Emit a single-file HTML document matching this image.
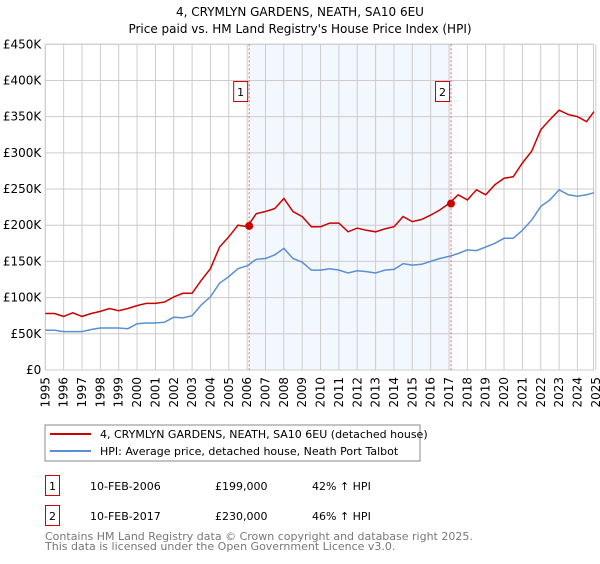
<!DOCTYPE html>
<html><head><meta charset="utf-8"><style>
body{margin:0;background:#fff;font-family:"DejaVu Sans","Liberation Sans",sans-serif;}
svg text{font-family:"DejaVu Sans","Liberation Sans",sans-serif;}
</style></head><body>
<svg id="c" width="600" height="560" xmlns="http://www.w3.org/2000/svg">
<text x="300" y="16" text-anchor="middle" font-size="12">4, CRYMLYN GARDENS, NEATH, SA10 6EU</text>
<text x="300" y="33" text-anchor="middle" font-size="12">Price paid vs. HM Land Registry's House Price Index (HPI)</text>
<g id="plot"></g>
<rect x="45" y="425" width="375" height="36" fill="#fff" stroke="#888"/>
<line x1="50" y1="434" x2="91" y2="434" stroke="#cc0000" stroke-width="2"/>
<text x="100" y="438" font-size="11">4, CRYMLYN GARDENS, NEATH, SA10 6EU (detached house)</text>
<line x1="50" y1="451" x2="91" y2="451" stroke="#5b8fd4" stroke-width="2"/>
<text x="100" y="455" font-size="11">HPI: Average price, detached house, Neath Port Talbot</text>
<g>
<rect x="45.5" y="475.5" width="14" height="20" fill="none" stroke="#cc0000"/>
<text x="52.5" y="490" text-anchor="middle" font-size="11">1</text>
<text x="90" y="490" font-size="11">10-FEB-2006</text>
<text x="215" y="490" font-size="11">£199,000</text>
<text x="312" y="490" font-size="11">42% ↑ HPI</text>
</g>
<g>
<rect x="45.5" y="505.5" width="14" height="20" fill="none" stroke="#cc0000"/>
<text x="52.5" y="520" text-anchor="middle" font-size="11">2</text>
<text x="90" y="520" font-size="11">10-FEB-2017</text>
<text x="215" y="520" font-size="11">£230,000</text>
<text x="312" y="520" font-size="11">46% ↑ HPI</text>
</g>
<text x="45" y="540" font-size="11" fill="#777">Contains HM Land Registry data © Crown copyright and database right 2025.</text>
<text x="45" y="550" font-size="11" fill="#777">This data is licensed under the Open Government Licence v3.0.</text>
</svg>
<script>
const years=[1995,1995.5,1996,1996.5,1997,1997.5,1998,1998.5,1999,1999.5,2000,2000.5,2001,2001.5,2002,2002.5,2003,2003.5,2004,2004.5,2005,2005.5,2006,2006.5,2007,2007.5,2008,2008.5,2009,2009.5,2010,2010.5,2011,2011.5,2012,2012.5,2013,2013.5,2014,2014.5,2015,2015.5,2016,2016.5,2017,2017.5,2018,2018.5,2019,2019.5,2020,2020.5,2021,2021.5,2022,2022.5,2023,2023.5,2024,2024.5,2024.9];
const hpiValues=[55,55,53,53,53,56,58,58,58,57,64,65,65,66,73,72,75,90,101,120,129,140,144,153,154,159,168,154,149,138,138,140,138,134,137,136,134,138,139,147,145,146,150,154,157,161,166,165,170,175,182,182,193,207,226,235,249,242,240,242,245];
const priceValues=[78,78,74,79,74,78,81,85,82,85,89,92,92,94,101,106,106,124,140,170,184,200,198,216,219,223,237,219,212,198,198,203,203,191,196,193,191,195,198,212,205,208,214,221,230,242,235,249,242,256,265,267,286,302,332,346,359,353,350,343,357];
const yTicks=[0,50,100,150,200,250,300,350,400,450];
const yTickLabels=["£0","£50K","£100K","£150K","£200K","£250K","£300K","£350K","£400K","£450K"];
const xTicks=[1995,1996,1997,1998,1999,2000,2001,2002,2003,2004,2005,2006,2007,2008,2009,2010,2011,2012,2013,2014,2015,2016,2017,2018,2019,2020,2021,2022,2023,2024,2025];
const saleYears=[2006.11,2017.11];
const saleValues=[199,230];
const saleLabels=["1","2"];
const X0=45.3,X1=593.5,Y0=370,Y1=44.3;
const xs=y=>X0+(y-1995)*18.35;
const ys=v=>Y0-(v/450)*(Y0-Y1);
const NS="http://www.w3.org/2000/svg";
const g=document.getElementById('plot');
function mk(t,a,p){const e=document.createElementNS(NS,t);for(const k in a)e.setAttribute(k,a[k]);(p||g).appendChild(e);return e;}
const band=mk('rect',{x:xs(saleYears[0]),y:Y1,width:xs(saleYears[1])-xs(saleYears[0]),height:Y0-Y1,fill:'#eef3fd',opacity:'0.7'});


yTicks.forEach((v,i)=>{
 const l=mk('line',{x1:X0,x2:X1,y1:ys(v),y2:ys(v),stroke:'#ccc'});
 
 
 const t=mk('text',{x:X0-4,y:ys(v)+4,'text-anchor':'end','font-size':'12'});
 t.textContent=yTickLabels[i];
 
 
});
xTicks.forEach(y=>{
 const x=xs(y);
 const l=mk('line',{x1:x,x2:x,y1:Y1,y2:Y0,stroke:'#ccc'});
 
 
 const t=mk('text',{x:0,y:0,'text-anchor':'end','font-size':'12',transform:`translate(${x+4},377) rotate(-90)`});
 t.textContent=y;
 
 
});
const fr=mk('rect',{x:X0,y:Y1,width:X1-X0,height:Y0-Y1,fill:'none',stroke:'#ccc'});


saleYears.forEach((s,i)=>{
 const x=xs(s);
 const l=mk('line',{x1:x,x2:x,y1:Y1,y2:Y0,stroke:'#e66','stroke-dasharray':'2,2'});
 
 
 const r=mk('rect',{x:x-15.5,y:81.5,width:14,height:20,fill:'#fff',stroke:'#cc0000'});
 
 
 const t=mk('text',{x:x-8.5,y:96,'text-anchor':'middle','font-size':'11'});
 t.textContent=saleLabels[i];
 
 
});
function pts(vals){return vals.map((v,i)=>xs(years[i]).toFixed(1)+','+ys(v).toFixed(1)).join(' ');}
const hl=mk('polyline',{points:pts(hpiValues),fill:'none',stroke:'#5b8fd4','stroke-width':'1.5'});


const pl=mk('polyline',{points:pts(priceValues),fill:'none',stroke:'#cc0000','stroke-width':'1.5'});


saleYears.forEach((s,i)=>{
 const c=mk('circle',{cx:xs(s),cy:ys(saleValues[i]),r:4,fill:'#cc0000'});
 
 
});
</script>
</body></html>
